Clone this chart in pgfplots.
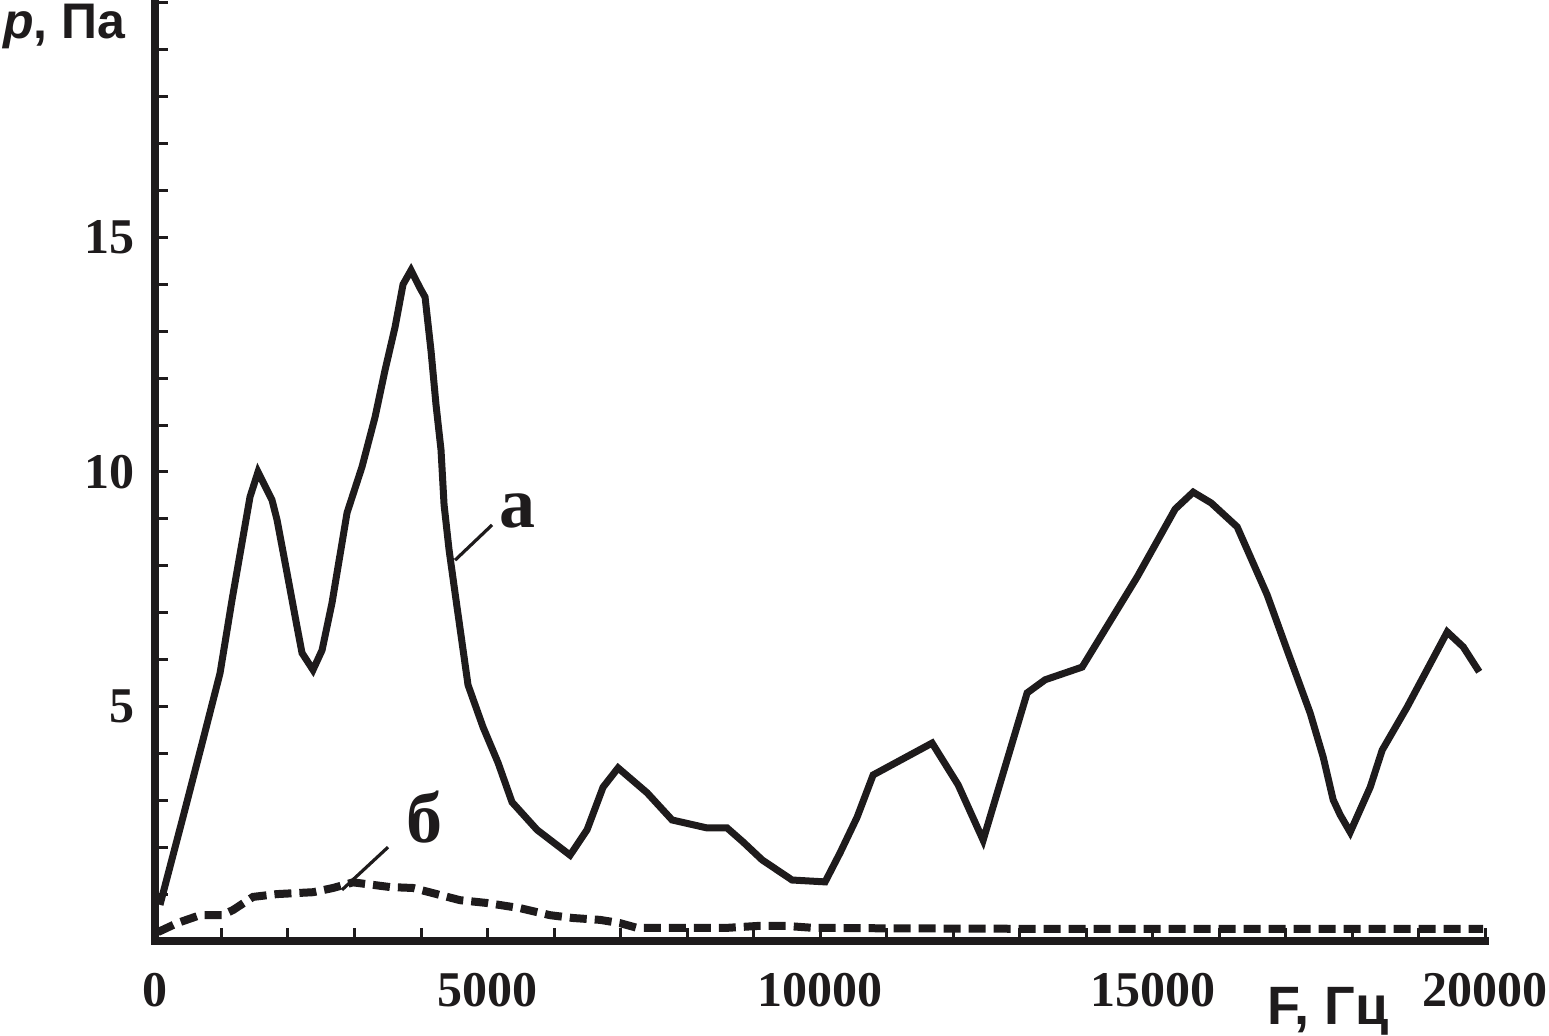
\documentclass[border=0pt]{standalone}
\usepackage{fontspec}
\setmainfont{Liberation Serif}
\newfontfamily\sansb{Liberation Sans}
\usepackage{pgfplots}
\pgfplotsset{compat=1.18}
\definecolor{ink}{RGB}{30,27,28}
\begin{document}
\begin{tikzpicture}
\begin{axis}[
  at={(0,0)}, anchor=south west,
  scale only axis, width=665pt, height=469pt,
  xmin=0, xmax=20000, ymin=0, ymax=20,
  clip=false,
  axis lines=left,
  axis line style={-, line width=4pt, ink, line cap=rect},
  xtick={0,5000,10000,15000,20000},
  xticklabels={0,5000,10000,15000,20000},
  minor x tick num=4,
  ytick={0,5,10,15,20},
  yticklabels={,5,10,15,},
  minor y tick num=4,
  scaled x ticks=false, scaled y ticks=false,
  tick align=inside,
  major tick length=6.5pt, minor tick length=6.5pt,
  every tick/.style={ink, line width=1.5pt},
  tick label style={font=\fontsize{25}{28}\selectfont\bfseries, text=ink},
  xticklabel style={yshift=-12.5pt},
  yticklabel style={xshift=-6.5pt},
]
\addplot[ink, line width=3.5pt, line join=miter] coordinates {
(75,0.77)(421,2.64)(722,4.29)(978,5.71)(1158,7.27)(1429,9.47)(1549,10.0)
(1760,9.40)(1835,8.98)(1985,7.85)(2136,6.70)(2211,6.14)(2376,5.78)(2512,6.20)
(2662,7.21)(2888,9.13)(3113,10.11)(3309,11.17)(3459,12.17)(3610,13.09)(3730,14.0)
(3850,14.3)(3986,13.92)(4061,13.73)(4151,12.58)(4226,11.43)(4301,10.47)(4347,9.30)
(4422,8.34)(4527,7.27)(4707,5.46)(4933,4.56)(5159,3.80)(5369,2.96)(5745,2.37)
(6242,1.83)(6497,2.37)(6738,3.28)(6964,3.69)(7400,3.16)(7776,2.58)(8302,2.41)
(8603,2.41)(8844,2.11)(9129,1.73)(9580,1.30)(10077,1.26)(10302,1.88)(10558,2.64)
(10799,3.54)(11686,4.22)(12077,3.33)(12453,2.15)(13115,5.29)(13386,5.57)(13942,5.84)
(14769,7.76)(15341,9.21)(15612,9.57)(15882,9.34)(16273,8.83)(16724,7.38)(17025,6.20)
(17371,4.86)(17567,3.92)(17717,3.01)(17822,2.69)(17973,2.32)(18274,3.28)(18454,4.07)
(18830,4.99)(19432,6.59)(19673,6.27)(19913,5.74)
};
\addplot[ink, line width=4pt, dash pattern=on 8.5pt off 4pt] coordinates {
(45,0.19)(331,0.38)(677,0.55)(1008,0.55)(1173,0.66)(1474,0.94)(1835,1.00)
(2376,1.04)(2677,1.13)(2978,1.25)(3534,1.15)(3880,1.13)(4181,1.02)(4587,0.87)
(4993,0.81)(5490,0.70)(5941,0.55)(6287,0.49)(6693,0.45)(6994,0.38)(7250,0.28)
(7791,0.28)(8603,0.28)(9054,0.32)(9505,0.32)(9896,0.28)(11000,0.27)(13000,0.26)
(15000,0.26)(17000,0.26)(19973,0.26)
};
\draw[ink, line width=1.6pt] (axis cs:4512,8.12) -- (axis cs:5068,8.87);
\draw[ink, line width=1.6pt] (axis cs:2812,1.09) -- (axis cs:3504,2.00);
\node[anchor=base, inner sep=0, text=ink, font=\fontsize{36}{40}\selectfont\bfseries] at (axis cs:5444,8.81) {а};
\node[anchor=base, inner sep=0, text=ink, font=\fontsize{36}{40}\selectfont\bfseries] at (axis cs:4046,2.09) {б};
\end{axis}
\node[anchor=base west, inner sep=0, text=ink, font=\sansb\fontsize{25}{28}\selectfont\bfseries] at (-76pt,451pt) {\textit{p}, Па};
\node[anchor=base west, inner sep=0, text=ink, font=\sansb\fontsize{27}{30}\selectfont\bfseries] at (556pt,-42pt) {F, Гц};
\pgfresetboundingbox
\useasboundingbox (-77.5pt,-47.5pt) rectangle (697pt,470.5pt);
\end{tikzpicture}
\end{document}
